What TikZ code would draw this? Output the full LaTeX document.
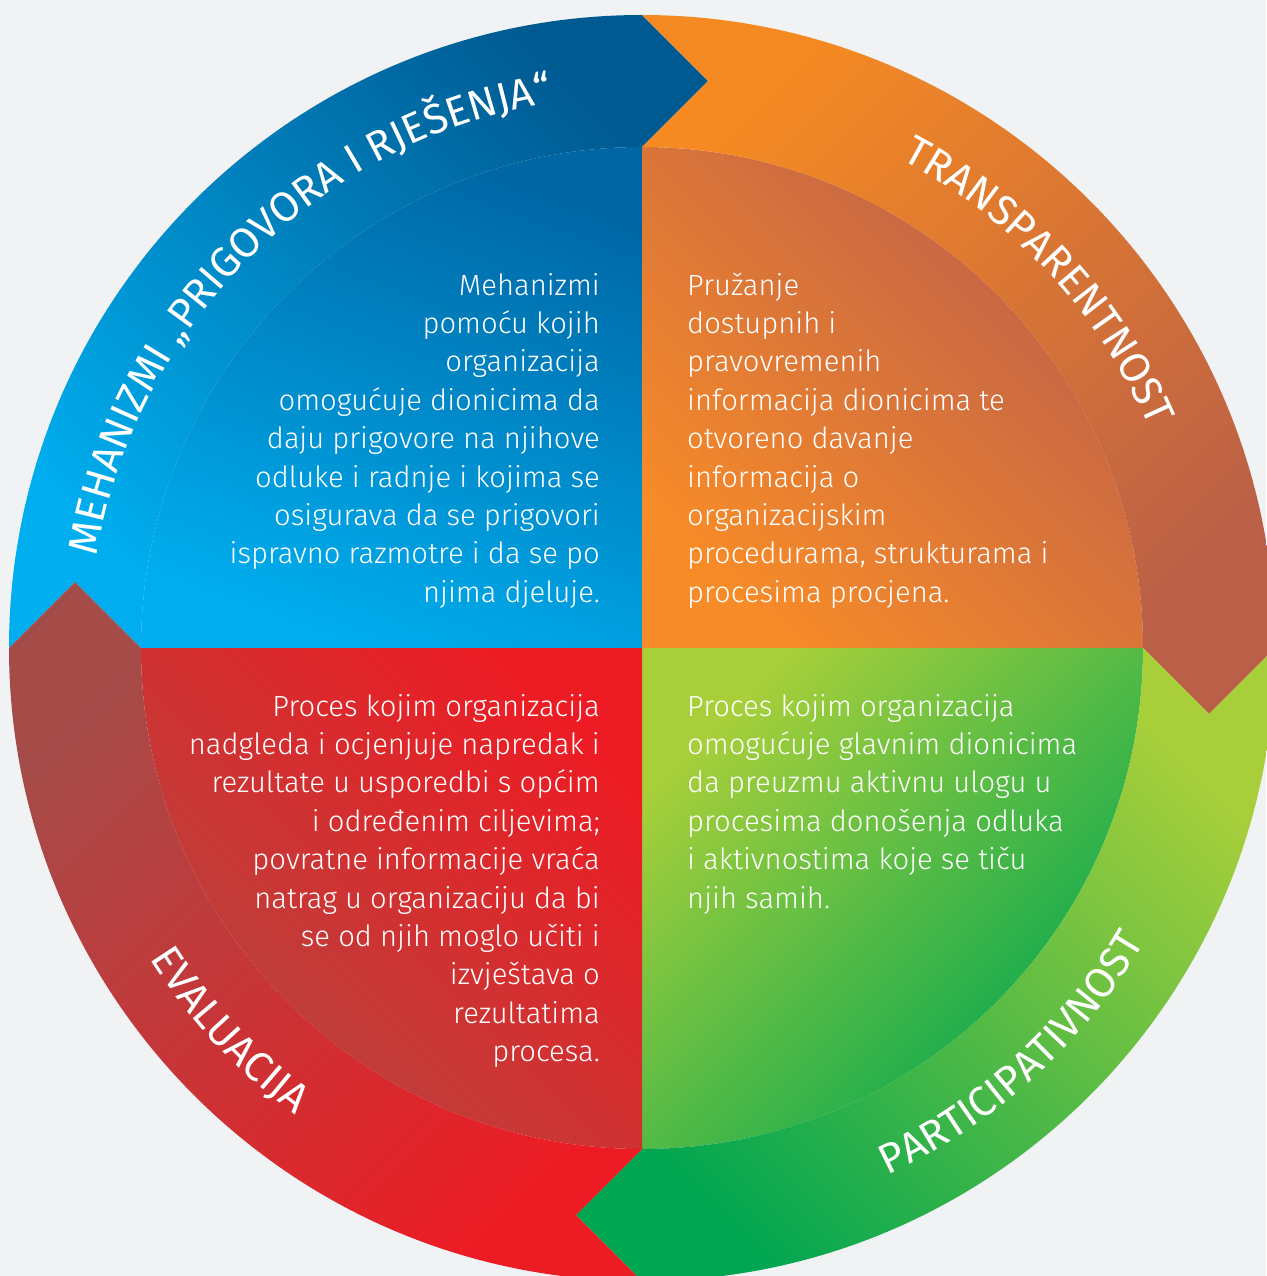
\documentclass[tikz,border=0pt]{standalone}
\usepackage{fontspec}
\setmainfont{Fira Sans}
\newfontfamily\headfont{Fira Sans}
\newfontfamily\bodyfont{Fira Sans Light}
\usetikzlibrary{calc,decorations.text}
\definecolor{bg}{HTML}{F0F2F4}
\definecolor{blueA}{HTML}{005A92}
\definecolor{blueB}{HTML}{00AEEF}
\definecolor{blueIA}{HTML}{0066A4}
\definecolor{orA}{HTML}{F58A22}
\definecolor{orB}{HTML}{BA5F48}
\definecolor{orIA}{HTML}{BD5F4A}
\definecolor{orIB}{HTML}{F78B28}
\definecolor{grA}{HTML}{A8CF3A}
\definecolor{grB}{HTML}{00A651}
\definecolor{rdA}{HTML}{A54C49}
\definecolor{rdB}{HTML}{ED1C24}
\definecolor{rdIB}{HTML}{B4463F}
\newcommand\ringpath[1]{($(C)+(#1:633)$) arc[start angle=#1, end angle=#1-90, radius=633] -- ($(C)+({#1-90}:567)+({#1-180}:66)$) -- ($(C)+({#1-90}:501)$) arc[start angle=#1-90, end angle=#1, radius=501] -- ($(C)+(#1:567)+({#1-90}:66)$) -- cycle}
\newcommand\quadpath[1]{(C) -- ($(C)+(#1:501)$) arc[start angle=#1, end angle=#1-90, radius=501] -- cycle}
\newcommand\headfmt{\color{white}\headfont\fontsize{42}{48}\selectfont}
\begin{document}
\begin{tikzpicture}[x=1pt,y=1pt,
  bodytext/.style={text=white, inner sep=0pt, font=\bodyfont\fontsize{29.2}{38.4}\selectfont},
  ringlabel/.style={decorate, decoration={text along path, text align=center, text={#1}}}]
\useasboundingbox (0,0) rectangle (1266,-1276);
\fill[bg] (0,0) rectangle (1266,-1276);
\coordinate (C) at (642,-648);
% inner quadrants
\shade[top color=blueIA, bottom color=blueB, shading angle=-20] \quadpath{180};
\shade[top color=orIA, bottom color=orIB, shading angle=-45] \quadpath{90};
\shade[top color=grA, bottom color=grB, shading angle=45] \quadpath{0};
\shade[top color=rdB, bottom color=rdIB, shading angle=-45] \quadpath{270};
% ring segments
\shade[top color=blueA, bottom color=blueB, shading angle=-45] \ringpath{180};
\shade[top color=orA, bottom color=orB, shading angle=45] \ringpath{90};
\shade[top color=grA, bottom color=grB, shading angle=-45] \ringpath{0};
\shade[top color=rdA, bottom color=rdB, shading angle=45] \ringpath{270};
% ring labels
\path[ringlabel={|\headfmt|MEHANIZMI „PRIGOVORA I RJEŠENJA“}] ($(C)+(179.85:553)$) arc[start angle=179.85, end angle=89.85, radius=553];
\path[ringlabel={|\headfmt|TRANSPARENTNOST}] ($(C)+(72.75:553)$) arc[start angle=72.75, end angle=12.75, radius=553];
\path[ringlabel={|\headfmt|PARTICIPATIVNOST}] ($(C)+(-77.7:582)$) arc[start angle=-77.7, end angle=-17.7, radius=582];
\path[ringlabel={|\headfmt|EVALUACIJA}] ($(C)+(202.85:582)$) arc[start angle=202.85, end angle=242.85, radius=582];
% body texts (base anchor = baseline of the last line)
\node[bodytext, align=right, anchor=base east] (tmeh) at (600,-602.2) {Mehanizmi\\pomoću kojih\\organizacija\\omogućuje dionicima da\\daju prigovore na njihove\\odluke i radnje i kojima se\\osigurava da se prigovori\\ispravno razmotre i da se po\\njima djeluje.};
\node[bodytext, align=left, anchor=base west] (ttra) at (687,-602.2) {Pružanje\\dostupnih i\\pravovremenih\\informacija dionicima te\\otvoreno davanje\\informacija o\\organizacijskim\\procedurama, strukturama i\\procesima procjena.};
\node[bodytext, align=right, anchor=base east] (teva) at (600,-1061.6) {Proces kojim organizacija\\nadgleda i ocjenjuje napredak i\\rezultate u usporedbi s općim\\i određenim ciljevima;\\povratne informacije vraća\\natrag u organizaciju da bi\\se od njih moglo učiti i\\izvještava o\\rezultatima\\procesa.};
\node[bodytext, align=left, anchor=base west] (tpar) at (687,-908) {Proces kojim organizacija\\omogućuje glavnim dionicima\\da preuzmu aktivnu ulogu u\\procesima donošenja odluka\\i aktivnostima koje se tiču\\njih samih.};
\end{tikzpicture}
\end{document}
